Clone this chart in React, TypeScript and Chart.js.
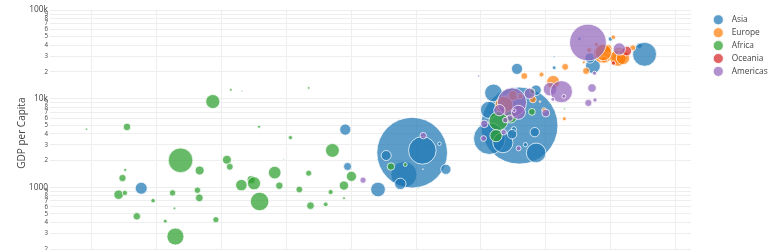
import React, { useEffect, useRef } from "react";
import { Chart, registerables } from "chart.js";

Chart.register(...registerables);

// ---- Data (Gapminder 2007): life expectancy (x), GDP per capita (y), population in millions (size)
const continents = ["Asia", "Europe", "Africa", "Oceania", "Americas"];
const continentRgb = ["31,119,180", "255,127,14", "44,160,44", "214,39,40", "148,103,189"];

const asiaCountries = ["Afghanistan", "Bahrain", "Bangladesh", "Cambodia", "China", "Hong Kong, China", "India", "Indonesia", "Iran", "Iraq", "Israel", "Japan", "Jordan", "Korea, Dem. Rep.", "Korea, Rep.", "Kuwait", "Lebanon", "Malaysia", "Mongolia", "Myanmar", "Nepal", "Oman", "Pakistan", "Philippines", "Saudi Arabia", "Singapore", "Sri Lanka", "Syria", "Taiwan", "Thailand", "Vietnam", "West Bank and Gaza", "Yemen, Rep."];
const asiaLifeExp = [43.828, 75.635, 64.062, 59.723, 72.961, 82.208, 64.698, 70.65, 70.964, 59.545, 80.745, 82.603, 72.535, 67.297, 78.623, 77.588, 71.993, 74.241, 66.803, 62.069, 63.785, 75.64, 65.483, 71.688, 72.777, 79.972, 72.396, 74.143, 78.4, 70.616, 74.249, 73.422, 62.698];
const asiaGdp = [974.6, 29796.0, 1391.3, 1713.8, 4959.1, 39725.0, 2452.2, 3540.7, 11605.7, 4471.1, 25523.3, 31656.1, 4519.5, 1593.1, 23348.1, 47307.0, 10461.1, 12451.7, 3095.8, 944.0, 1091.4, 22316.2, 2605.9, 3190.5, 21654.8, 47143.2, 3970.1, 4184.5, 28718.3, 7458.4, 2441.6, 3025.3, 2280.8];
const asiaPop = [31.89, 0.71, 150.45, 14.13, 1318.68, 6.98, 1110.4, 223.55, 69.45, 27.5, 6.43, 127.47, 6.05, 23.3, 49.04, 2.51, 3.92, 24.82, 2.87, 47.76, 28.9, 3.2, 169.27, 91.08, 27.6, 4.55, 20.38, 19.31, 23.17, 65.07, 85.26, 4.02, 22.21];

const europeCountries = ["Albania", "Austria", "Belgium", "Bosnia and Herzegovina", "Bulgaria", "Croatia", "Czech Republic", "Denmark", "Finland", "France", "Germany", "Greece", "Hungary", "Iceland", "Ireland", "Italy", "Montenegro", "Netherlands", "Norway", "Poland", "Portugal", "Romania", "Serbia", "Slovak Republic", "Slovenia", "Spain", "Sweden", "Switzerland", "Turkey", "United Kingdom"];
const europeLifeExp = [76.423, 79.829, 79.441, 74.852, 73.005, 75.748, 76.486, 78.332, 79.313, 80.657, 79.406, 79.483, 73.338, 81.757, 78.885, 80.546, 74.543, 79.762, 80.196, 75.563, 78.098, 72.476, 74.002, 74.663, 77.926, 80.941, 80.884, 81.701, 71.777, 79.425];
const europeGdp = [5937.0, 36126.5, 33692.6, 7446.3, 10680.8, 14619.2, 22833.3, 35278.4, 33207.1, 30470.0, 32170.4, 27538.4, 18008.9, 36180.8, 40676.0, 28569.7, 9253.9, 36797.9, 49357.2, 15389.9, 20509.6, 10808.5, 9786.5, 18678.3, 25768.3, 28821.1, 33859.7, 37506.4, 8458.3, 33203.3];
const europePop = [3.6, 8.2, 10.39, 4.55, 7.32, 4.49, 10.23, 5.47, 5.24, 61.08, 82.4, 10.71, 9.96, 0.3, 4.11, 58.15, 0.68, 16.57, 4.63, 38.52, 10.64, 22.28, 10.15, 5.45, 2.01, 40.45, 9.03, 7.55, 71.16, 60.78];

const africaCountries = ["Algeria", "Angola", "Benin", "Botswana", "Burkina Faso", "Burundi", "Cameroon", "Central African Republic", "Chad", "Comoros", "Congo, Dem. Rep.", "Congo, Rep.", "Cote d'Ivoire", "Djibouti", "Egypt", "Equatorial Guinea", "Eritrea", "Ethiopia", "Gabon", "Gambia", "Ghana", "Guinea", "Guinea-Bissau", "Kenya", "Lesotho", "Liberia", "Libya", "Madagascar", "Malawi", "Mali", "Mauritania", "Mauritius", "Morocco", "Mozambique", "Namibia", "Niger", "Nigeria", "Reunion", "Rwanda", "Sao Tome and Principe", "Senegal", "Sierra Leone", "Somalia", "South Africa", "Sudan", "Swaziland", "Tanzania", "Togo", "Tunisia", "Uganda", "Zambia", "Zimbabwe"];
const africaLifeExp = [72.301, 42.731, 56.728, 50.728, 52.295, 49.58, 50.43, 44.741, 50.651, 65.152, 46.462, 55.322, 48.328, 54.791, 71.338, 51.579, 58.04, 52.947, 56.735, 59.448, 60.022, 56.007, 46.388, 54.11, 42.592, 45.678, 73.952, 59.443, 48.303, 54.467, 64.164, 72.801, 71.164, 42.082, 52.906, 56.867, 46.859, 76.442, 46.242, 65.528, 63.062, 42.568, 48.159, 49.339, 58.556, 39.613, 52.517, 58.42, 73.923, 51.542, 42.384, 43.487];
const africaGdp = [6223.4, 4797.2, 1441.3, 12569.9, 1217.0, 430.1, 2042.1, 706.0, 1704.1, 986.1, 277.6, 3632.6, 1544.8, 2082.5, 5581.2, 12154.1, 641.4, 690.8, 13206.5, 752.7, 1327.6, 942.7, 579.2, 1463.2, 1569.3, 414.5, 12057.5, 1044.8, 759.3, 1042.6, 1803.2, 10957.0, 3820.2, 823.7, 4811.1, 619.7, 2014.0, 7670.1, 863.1, 1598.4, 1712.5, 862.5, 926.1, 9269.7, 2602.4, 4513.5, 1107.5, 883.0, 7092.9, 1056.4, 1271.2, 469.7];
const africaPop = [33.33, 12.42, 8.08, 1.64, 14.33, 8.39, 17.7, 4.37, 10.24, 0.71, 64.61, 3.8, 18.01, 0.5, 80.26, 0.55, 4.91, 76.51, 1.45, 1.69, 22.87, 9.95, 1.47, 35.61, 2.01, 3.19, 6.04, 19.17, 13.33, 12.03, 3.27, 1.25, 33.76, 19.95, 2.06, 12.89, 135.03, 0.8, 8.86, 0.2, 12.27, 6.14, 9.12, 44.0, 42.29, 1.13, 38.14, 5.7, 10.28, 29.17, 11.75, 12.31];

const oceaniaCountries = ["Australia", "New Zealand"];
const oceaniaLifeExp = [81.235, 80.204];
const oceaniaGdp = [34435.4, 25185.0];
const oceaniaPop = [20.43, 4.12];

const americasCountries = ["Argentina", "Bolivia", "Brazil", "Canada", "Chile", "Colombia", "Costa Rica", "Cuba", "Dominican Republic", "Ecuador", "El Salvador", "Guatemala", "Haiti", "Honduras", "Jamaica", "Mexico", "Nicaragua", "Panama", "Paraguay", "Peru", "Puerto Rico", "Trinidad and Tobago", "United States", "Uruguay", "Venezuela"];
const americasLifeExp = [75.32, 65.554, 72.39, 80.653, 78.553, 72.889, 78.782, 78.273, 72.235, 74.994, 71.878, 70.259, 60.916, 70.198, 72.567, 76.195, 72.899, 75.537, 71.752, 71.421, 78.746, 69.819, 78.242, 76.384, 73.747];
const americasGdp = [12779.4, 3822.1, 9065.8, 36319.2, 13171.6, 7006.6, 9645.1, 8948.1, 6025.4, 6873.3, 5728.4, 5186.1, 1201.6, 3548.3, 7320.9, 11977.6, 2749.3, 9809.2, 4172.8, 7408.9, 19328.7, 18008.5, 42951.7, 10611.5, 11415.8];
const americasPop = [40.3, 9.12, 190.01, 33.39, 16.28, 44.23, 4.13, 11.42, 9.32, 13.76, 6.94, 12.57, 8.5, 7.48, 2.78, 108.7, 5.68, 3.24, 6.67, 28.67, 3.94, 1.06, 301.14, 3.45, 26.08];

// Axis tick values
const xTickValues = [40, 45, 50, 55, 60, 65, 70, 75, 80, 85];
const yTickValues = [
  200, 300, 400, 500, 600, 700, 800, 900,
  1000, 2000, 3000, 4000, 5000, 6000, 7000, 8000, 9000,
  10000, 20000, 30000, 40000, 50000, 60000, 70000, 80000, 90000,
  100000,
];
const yMajorLabels: Record<number, string> = { 1000: "1000", 10000: "10k", 100000: "100k" };

const groups = [
  { countries: asiaCountries, life: asiaLifeExp, gdp: asiaGdp, pop: asiaPop },
  { countries: europeCountries, life: europeLifeExp, gdp: europeGdp, pop: europePop },
  { countries: africaCountries, life: africaLifeExp, gdp: africaGdp, pop: africaPop },
  { countries: oceaniaCountries, life: oceaniaLifeExp, gdp: oceaniaGdp, pop: oceaniaPop },
  { countries: americasCountries, life: americasLifeExp, gdp: americasGdp, pop: americasPop },
];

const FONT = "'Open Sans', 'DejaVu Sans', sans-serif";
const MAX_RADIUS = 38.5; // radius of the largest bubble (China)
const MAX_POP = 1318.68;

const sideLegend = {
  id: "sideLegend",
  afterDraw(chart: any) {
    const ctx = chart.ctx;
    const left = chart.chartArea.right;
    ctx.save();
    continents.forEach((name, i) => {
      const cy = 19.8 + i * 12.9;
      const cx = left + 27.3;
      ctx.beginPath();
      ctx.arc(cx, cy, 5, 0, Math.PI * 2);
      ctx.fillStyle = `rgba(${continentRgb[i]},0.72)`;
      ctx.fill();
      ctx.lineWidth = 1;
      ctx.strokeStyle = "rgba(255,255,255,0.7)";
      ctx.stroke();
      ctx.fillStyle = "#444";
      ctx.font = `8.4px ${FONT}`;
      ctx.textAlign = "left";
      ctx.textBaseline = "middle";
      ctx.fillText(name, left + 40.7, cy + 0.3);
    });
    ctx.restore();
  },
};

export default function App() {
  const canvasRef = useRef<HTMLCanvasElement | null>(null);

  useEffect(() => {
    if (!canvasRef.current) return;
    const datasets = groups.map((g, i) => ({
      label: continents[i],
      data: g.countries.map((_, j) => ({
        x: g.life[j],
        y: g.gdp[j],
        r: MAX_RADIUS * Math.sqrt(g.pop[j] / MAX_POP),
      })),
      backgroundColor: `rgba(${continentRgb[i]},0.72)`,
      borderColor: "rgba(255,255,255,0.75)",
      borderWidth: 1,
      hoverBorderWidth: 1,
      order: continents.length - i,
    }));

    const chart = new Chart(canvasRef.current, {
      type: "bubble",
      data: { datasets },
      plugins: [sideLegend],
      options: {
        responsive: false,
        animation: false,
        events: [],
        layout: { autoPadding: false, padding: { top: 10, right: 81, bottom: 4, left: 0 } },
        plugins: {
          legend: { display: false },
          tooltip: { enabled: false },
        },
        scales: {
          x: {
            type: "linear",
            min: 36.8,
            max: 86.18,
            afterBuildTicks: (scale: any) => {
              scale.ticks = xTickValues.map((v) => ({ value: v }));
            },
            ticks: { display: false },
            grid: { color: "#eeeeee", lineWidth: 1, drawTicks: false },
            border: { display: false },
          },
          y: {
            type: "logarithmic",
            min: 166.4,
            max: 100000,
            afterBuildTicks: (scale: any) => {
              scale.ticks = yTickValues.map((v) => ({ value: v }));
            },
            afterFit: (scale: any) => {
              scale.width = 50;
            },
            ticks: {
              autoSkip: false,
              padding: 2,
              color: "#444",
              font: (ctx: any) => {
                const v = ctx.tick ? ctx.tick.value : 0;
                return { family: FONT, size: yMajorLabels[v] ? 8.4 : 6.2 };
              },
              callback: (value: any) => {
                const v = Number(value);
                if (yMajorLabels[v]) return yMajorLabels[v];
                return String(Math.round(v / Math.pow(10, Math.floor(Math.log10(v)))));
              },
            },
            grid: { color: "#eeeeee", lineWidth: 1, drawTicks: false },
            border: { display: false },
            title: {
              display: true,
              text: "GDP per Capita",
              color: "#444",
              font: { family: FONT, size: 10 },
              padding: { top: 15.7, bottom: 0 },
            },
          },
        },
      } as any,
    });
    return () => chart.destroy();
  }, []);

  return (
    <div
      style={{
        position: "fixed",
        left: 0,
        top: 0,
        width: 772,
        height: 250,
        overflow: "hidden",
        background: "#fff",
      }}
    >
      <canvas ref={canvasRef} width={772} height={262} style={{ display: "block" }} />
    </div>
  );
}
